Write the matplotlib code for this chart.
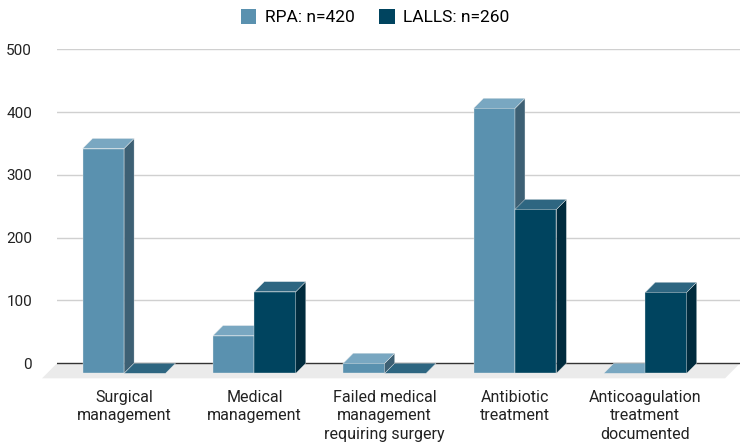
import numpy as np
import matplotlib
matplotlib.use('Agg')
from matplotlib import pyplot as plt
from matplotlib.patches import Polygon, Patch


# Data
categories = ['Surgical\nmanagement', 'Medical\nmanagement',
              'Failed medical\nmanagement\nrequiring surgery',
              'Antibiotic\ntreatment',
              'Anticoagulation\ntreatment\ndocumented']
rpa   = [358, 60, 16, 422, 0]
lalls = [0, 130, 0, 261, 129]
series_names = ['RPA: n=420', 'LALLS: n=260']
yticks = [0, 100, 200, 300, 400, 500]

# colours: front, top, side
col_rpa   = ('#5a91af', '#79a7c1', '#3d6074')
col_lalls = ('#00445f', '#2e6681', '#002b3d')

plt.rcParams['font.family'] = ['Roboto', 'DejaVu Sans']

fig = plt.figure(figsize=(7.5, 4.45), dpi=100)
ax = fig.add_axes([0.076, 0.1484, 0.9107, 0.7408])

xmin, xmax = -0.515, 4.727
ymin, ymax = -25, 500
ax.set_xlim(xmin, xmax)
ax.set_ylim(ymin, ymax)

# pseudo-3D depth in data units
bw   = 0.318        # bar width
ddx  = 0.0766       # bar depth (x)
ddy  = 16.0         # bar depth (y)
fdx, fdy = 0.115, 24.0   # floor depth

# gridlines on the back wall
for t in yticks[1:]:
    ax.axhline(t, color='#d0d0d0', lw=1, zorder=1)
ax.axhline(0, color='#333333', lw=1, zorder=1)

# floor
floor = Polygon([(xmin, 0), (xmax, 0), (xmax - fdx, -fdy), (xmin - fdx, -fdy)],
                closed=True, facecolor='#ebebeb', edgecolor='none',
                zorder=0.5, clip_on=False)
ax.add_patch(floor)


def bar3d(x0, v, cols):
    x1 = x0 + bw
    yb = -ddy
    yt = v - ddy
    kw = dict(closed=True, edgecolor='#eeeeee', lw=0.25, zorder=3, clip_on=False)
    if v > 0:
        ax.add_patch(Polygon([(x0, yb), (x1, yb), (x1, yt), (x0, yt)],
                             facecolor=cols[0], **kw))
        ax.add_patch(Polygon([(x1, yb), (x1 + ddx, 0), (x1 + ddx, v), (x1, yt)],
                             facecolor=cols[2], **kw))
    ax.add_patch(Polygon([(x0, yt), (x1, yt), (x1 + ddx, v), (x0 + ddx, v)],
                         facecolor=cols[1], **kw))


for i in range(len(categories)):
    bar3d(i - bw, rpa[i], col_rpa)
    bar3d(i, lalls[i], col_lalls)

ax.set_yticks(yticks)
ax.set_yticklabels([str(t) for t in yticks], fontsize=11, color='#222222')
ax.set_xticks(range(len(categories)))
ax.set_xticklabels(categories, fontsize=11.5, color='#222222', linespacing=1.28)
ax.tick_params(axis='y', length=0, pad=18)
ax.tick_params(axis='x', length=0, pad=8)
for s in ax.spines.values():
    s.set_visible(False)

handles = [Patch(facecolor=col_rpa[0]), Patch(facecolor=col_lalls[0])]
fig.legend(handles, series_names, loc='center', bbox_to_anchor=(0.5, 0.962),
           ncol=2, frameon=False, fontsize=12.5, handlelength=0.9,
           handleheight=1.0, handletextpad=0.5, columnspacing=1.4)

fig.savefig('out.png', dpi=100)
